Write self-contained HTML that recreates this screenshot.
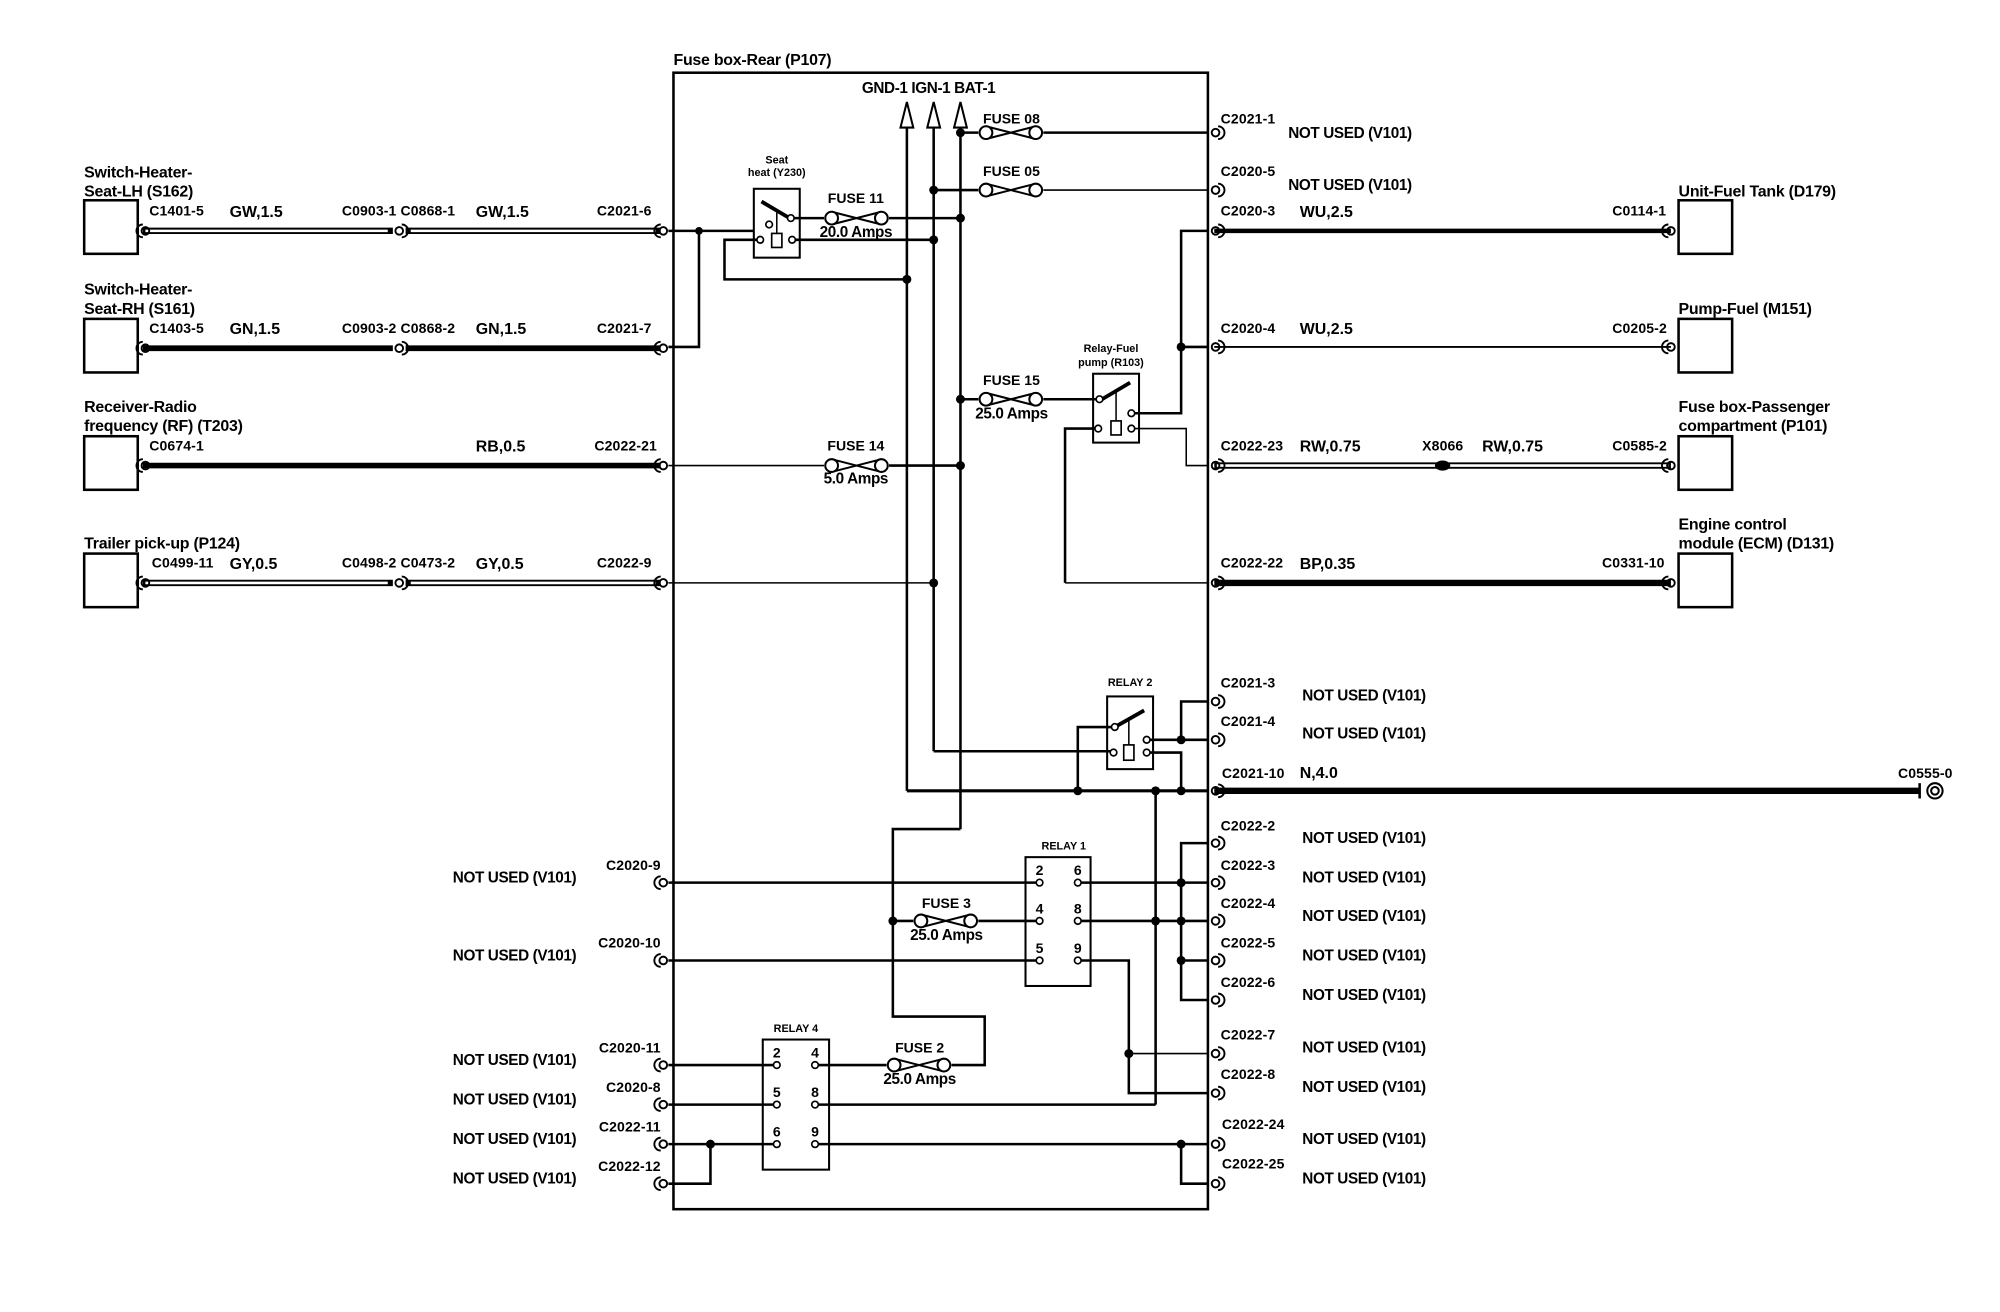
<!DOCTYPE html>
<html><head><meta charset="utf-8"><style>
html,body{margin:0;padding:0;background:#fff;}
svg{display:block;}
text{font-family:"Liberation Sans",Arial,sans-serif;fill:#000;}
.t{font-size:12.5px;font-weight:bold;letter-spacing:-0.2px;}
.w{font-size:12.5px;font-weight:bold;}
.c{font-size:11px;font-weight:bold;letter-spacing:0.1px;}
.n{font-size:12px;font-weight:bold;letter-spacing:-0.3px;}
.f{font-size:11px;font-weight:bold;}
.s{font-size:8.5px;font-weight:bold;}
</style></head><body>
<svg width="2000" height="1312" viewBox="0 0 1568 1028.6" xmlns="http://www.w3.org/2000/svg">
<defs>
<g id="fz" fill="#fff" stroke="#000" stroke-width="1.6">
<line x1="6" y1="-5" x2="25.5" y2="0"/><line x1="6" y1="5" x2="25.5" y2="0"/>
<line x1="45" y1="-5" x2="25.5" y2="0"/><line x1="45" y1="5" x2="25.5" y2="0"/>
<circle cx="6" cy="0" r="5"/><circle cx="45" cy="0" r="5"/>
</g>
<g id="pL" fill="none" stroke="#000" stroke-width="1.5"><circle cx="0" cy="0" r="3"/><path d="M-2,-5 A5,5 0 0 0 -2,5"/></g>
<g id="pR" fill="none" stroke="#000" stroke-width="1.5"><circle cx="0" cy="0" r="3"/><path d="M2,-5 A5,5 0 0 1 2,5"/></g>
<g id="pin" fill="#fff" stroke="#000" stroke-width="1.3"><circle cx="0" cy="0" r="2.6"/></g>
</defs>
<g stroke="#000" fill="none">
<rect x="528" y="57" width="419" height="891" stroke-width="2"/>
<g stroke-width="2">
<rect x="66" y="157" width="42" height="42"/>
<rect x="66" y="250" width="42" height="42"/>
<rect x="66" y="342" width="42" height="42"/>
<rect x="66" y="434" width="42" height="42"/>
<rect x="1316" y="157" width="42" height="42"/>
<rect x="1316" y="250" width="42" height="42"/>
<rect x="1316" y="342" width="42" height="42"/>
<rect x="1316" y="434" width="42" height="42"/>
</g>
<g stroke-width="5"><line x1="112" y1="181" x2="308" y2="181"/><line x1="318" y1="181" x2="518" y2="181"/>
<line x1="112" y1="457" x2="308" y2="457"/><line x1="318" y1="457" x2="518" y2="457"/></g>
<g stroke-width="2" stroke="#fff"><line x1="114" y1="181" x2="304" y2="181"/><line x1="322" y1="181" x2="514" y2="181"/>
<line x1="114" y1="457" x2="304" y2="457"/><line x1="322" y1="457" x2="514" y2="457"/></g>
<g stroke-width="4.5"><line x1="112" y1="273" x2="308" y2="273"/><line x1="318" y1="273" x2="518" y2="273"/>
<line x1="112" y1="365" x2="518" y2="365"/></g>
<line x1="952" y1="181" x2="1310" y2="181" stroke-width="3.5"/>
<line x1="952" y1="272" x2="1310" y2="272" stroke-width="1.5"/>
<line x1="952" y1="365" x2="1310" y2="365" stroke-width="5"/>
<line x1="954" y1="365" x2="1308" y2="365" stroke-width="2" stroke="#fff"/>
<line x1="952" y1="457" x2="1310" y2="457" stroke-width="5"/>
<line x1="952" y1="620" x2="1505" y2="620" stroke-width="5"/>
<g stroke-width="1.2">
<line x1="524" y1="365" x2="646" y2="365"/>
<line x1="524" y1="457" x2="732" y2="457"/>
<line x1="818" y1="149" x2="947" y2="149"/>
<line x1="835" y1="457" x2="947" y2="457"/>
<polyline points="887,336 930,336 930,365 947,365"/>
<line x1="885" y1="826" x2="947" y2="826"/>
</g>
<g stroke-width="2">
<line x1="711" y1="100" x2="711" y2="620"/>
<line x1="732" y1="100" x2="732" y2="589"/>
<line x1="753" y1="100" x2="753" y2="650"/>
<line x1="524" y1="181" x2="591" y2="181"/>
<polyline points="548,181 548,272 524,272"/>
<line x1="620" y1="171" x2="646" y2="171"/><line x1="697" y1="171" x2="753" y2="171"/>
<line x1="621" y1="188" x2="732" y2="188"/>
<polyline points="596,188 568,188 568,219 711,219"/>
<line x1="753" y1="104" x2="767" y2="104"/><line x1="818" y1="104" x2="947" y2="104"/>
<line x1="732" y1="149" x2="767" y2="149"/>
<line x1="697" y1="365" x2="753" y2="365"/>
<line x1="753" y1="313" x2="767" y2="313"/><line x1="818" y1="313" x2="862" y2="313"/>
<polyline points="887,324 926,324 926,181 947,181"/>
<line x1="926" y1="272" x2="947" y2="272"/>
<polyline points="861,336 835,336 835,457"/>
<line x1="732" y1="589" x2="873" y2="589"/>
<line x1="711" y1="620" x2="947" y2="620" stroke-width="2.5"/>
<polyline points="874,570 845,570 845,620"/>
<line x1="899" y1="580" x2="947" y2="580"/>
<polyline points="926,580 926,550 947,550"/>
<polyline points="899,590 926,590 926,620"/>
<line x1="906" y1="620" x2="906" y2="866"/>
<polyline points="753,650 700,650 700,797 772,797 772,835 746,835"/>
<line x1="524" y1="692" x2="815" y2="692"/>
<line x1="524" y1="753" x2="815" y2="753"/>
<line x1="700" y1="722" x2="716" y2="722"/><line x1="767" y1="722" x2="815" y2="722"/>
<line x1="845" y1="692" x2="947" y2="692"/>
<line x1="845" y1="722" x2="947" y2="722"/>
<polyline points="845,753 885,753 885,857 947,857"/>
<polyline points="947,661 926,661 926,784 947,784"/>
<line x1="926" y1="753" x2="947" y2="753"/>
<line x1="524" y1="835" x2="609" y2="835"/>
<line x1="639" y1="835" x2="695" y2="835"/>
<line x1="524" y1="866" x2="609" y2="866"/>
<line x1="639" y1="866" x2="906" y2="866"/>
<line x1="524" y1="897" x2="609" y2="897"/>
<polyline points="557,897 557,928 524,928"/>
<line x1="639" y1="897" x2="947" y2="897"/>
<polyline points="926,897 926,928 947,928"/>
</g>
<g stroke-width="1.6" fill="#fff">
<polygon points="711,80 706,100 716,100"/>
<polygon points="732,80 727,100 737,100"/>
<polygon points="753,80 748,100 758,100"/>
</g>
<rect x="591" y="148" width="36" height="54" stroke-width="1.6"/>
<line x1="597" y1="158" x2="619" y2="171" stroke-width="3"/>
<line x1="609" y1="165" x2="609" y2="183" stroke-width="1.2"/>
<rect x="605" y="183" width="8" height="11" stroke-width="1.3" fill="#fff"/>
<rect x="857" y="293" width="36" height="54" stroke-width="1.6"/>
<line x1="864" y1="313" x2="886" y2="300" stroke-width="3"/>
<line x1="875" y1="307" x2="875" y2="330" stroke-width="1.2"/>
<rect x="871" y="330" width="8" height="11" stroke-width="1.3" fill="#fff"/>
<rect x="868" y="546" width="36" height="57" stroke-width="1.6"/>
<line x1="874" y1="570" x2="897" y2="557" stroke-width="3"/>
<line x1="885" y1="564" x2="885" y2="584" stroke-width="1.2"/>
<rect x="881" y="584" width="8" height="12" stroke-width="1.3" fill="#fff"/>
<rect x="804" y="672" width="51" height="101" stroke-width="1.6"/>
<rect x="598" y="815" width="52" height="102" stroke-width="1.6"/>
</g>
<use href="#pin" x="603" y="176"/><use href="#pin" x="596" y="188"/><use href="#pin" x="621" y="188"/><use href="#pin" x="620" y="171"/>
<use href="#pin" x="862" y="313"/><use href="#pin" x="887" y="324"/><use href="#pin" x="861" y="336"/><use href="#pin" x="887" y="336"/>
<use href="#pin" x="874" y="570"/><use href="#pin" x="899" y="580"/><use href="#pin" x="873" y="590"/><use href="#pin" x="899" y="590"/>
<use href="#pin" x="815" y="692"/><use href="#pin" x="845" y="692"/><use href="#pin" x="815" y="722"/><use href="#pin" x="845" y="722"/><use href="#pin" x="815" y="753"/><use href="#pin" x="845" y="753"/>
<use href="#pin" x="609" y="835"/><use href="#pin" x="639" y="835"/><use href="#pin" x="609" y="866"/><use href="#pin" x="639" y="866"/><use href="#pin" x="609" y="897"/><use href="#pin" x="639" y="897"/>
<use href="#fz" x="767" y="104"/><use href="#fz" x="767" y="149"/><use href="#fz" x="646" y="171"/>
<use href="#fz" x="767" y="313"/><use href="#fz" x="646" y="365"/><use href="#fz" x="716" y="722"/><use href="#fz" x="695" y="835"/>
<use href="#pL" x="114" y="181"/><use href="#pL" x="114" y="273"/><use href="#pL" x="114" y="365"/><use href="#pL" x="114" y="457"/>
<use href="#pR" x="313" y="181"/><use href="#pR" x="313" y="273"/><use href="#pR" x="313" y="457"/>
<g><use href="#pL" x="520" y="181"/><use href="#pL" x="520" y="273"/><use href="#pL" x="520" y="365"/><use href="#pL" x="520" y="457"/>
<use href="#pL" x="520" y="692"/><use href="#pL" x="520" y="753"/><use href="#pL" x="520" y="835"/><use href="#pL" x="520" y="866"/><use href="#pL" x="520" y="897"/><use href="#pL" x="520" y="928"/></g>
<g><use href="#pR" x="953" y="104"/><use href="#pR" x="953" y="149"/><use href="#pR" x="953" y="181"/><use href="#pR" x="953" y="272"/><use href="#pR" x="953" y="365"/><use href="#pR" x="953" y="457"/>
<use href="#pR" x="953" y="550"/><use href="#pR" x="953" y="580"/><use href="#pR" x="953" y="620"/>
<use href="#pR" x="953" y="661"/><use href="#pR" x="953" y="692"/><use href="#pR" x="953" y="722"/><use href="#pR" x="953" y="753"/><use href="#pR" x="953" y="784"/>
<use href="#pR" x="953" y="826"/><use href="#pR" x="953" y="857"/><use href="#pR" x="953" y="897"/><use href="#pR" x="953" y="928"/></g>
<use href="#pL" x="1310" y="181"/><use href="#pL" x="1310" y="272"/><use href="#pL" x="1310" y="365"/><use href="#pL" x="1310" y="457"/>
<g fill="#fff" stroke="#000" stroke-width="1.6"><circle cx="1517" cy="620" r="6"/><circle cx="1517" cy="620" r="3"/></g>
<line x1="1505" y1="614" x2="1505" y2="626" stroke="#000" stroke-width="2"/>
<g fill="#000">
<circle cx="548" cy="181" r="3"/><circle cx="753" cy="104" r="3.5"/><circle cx="732" cy="149" r="3.5"/>
<circle cx="753" cy="171" r="3.5"/><circle cx="732" cy="188" r="3.5"/><circle cx="711" cy="219" r="3.5"/>
<circle cx="753" cy="313" r="3.5"/><circle cx="753" cy="365" r="3.5"/><circle cx="732" cy="457" r="3.5"/>
<circle cx="926" cy="272" r="3.5"/><circle cx="926" cy="580" r="3.5"/><circle cx="845" cy="620" r="3.5"/>
<circle cx="906" cy="620" r="3.5"/><circle cx="926" cy="620" r="3.5"/>
<circle cx="926" cy="692" r="3.5"/><circle cx="926" cy="722" r="3.5"/><circle cx="926" cy="753" r="3.5"/>
<circle cx="906" cy="722" r="3.5"/><circle cx="700" cy="722" r="3.5"/><circle cx="885" cy="826" r="3.5"/>
<circle cx="557" cy="897" r="3.5"/><circle cx="926" cy="897" r="3.5"/>
<ellipse cx="1131" cy="365" rx="6" ry="4"/>
</g>
<text class="t" x="528" y="51">Fuse box-Rear (P107)</text>
<text class="n" x="728" y="73" text-anchor="middle">GND-1 IGN-1 BAT-1</text>
<text class="t" x="66" y="139">Switch-Heater-</text><text class="t" x="66" y="154">Seat-LH (S162)</text>
<text class="t" x="66" y="231">Switch-Heater-</text><text class="t" x="66" y="246">Seat-RH (S161)</text>
<text class="t" x="66" y="323">Receiver-Radio</text><text class="t" x="66" y="338">frequency (RF) (T203)</text>
<text class="t" x="66" y="430">Trailer pick-up (P124)</text>
<text class="c" x="117" y="169">C1401-5</text><text class="w" x="180" y="170">GW,1.5</text><text class="c" x="268" y="169">C0903-1 C0868-1</text><text class="w" x="373" y="170">GW,1.5</text><text class="c" x="468" y="169">C2021-6</text>
<text class="c" x="117" y="261">C1403-5</text><text class="w" x="180" y="262">GN,1.5</text><text class="c" x="268" y="261">C0903-2 C0868-2</text><text class="w" x="373" y="262">GN,1.5</text><text class="c" x="468" y="261">C2021-7</text>
<text class="c" x="117" y="353">C0674-1</text><text class="w" x="373" y="354">RB,0.5</text><text class="c" x="466" y="353">C2022-21</text>
<text class="c" x="119" y="445">C0499-11</text><text class="w" x="180" y="446">GY,0.5</text><text class="c" x="268" y="445">C0498-2 C0473-2</text><text class="w" x="373" y="446">GY,0.5</text><text class="c" x="468" y="445">C2022-9</text>
<text class="s" x="609" y="128" text-anchor="middle">Seat</text><text class="s" x="609" y="138" text-anchor="middle">heat (Y230)</text>
<text class="f" x="671" y="159" text-anchor="middle">FUSE 11</text><text class="n" x="671" y="186" text-anchor="middle">20.0 Amps</text>
<text class="f" x="793" y="97" text-anchor="middle">FUSE 08</text><text class="f" x="793" y="138" text-anchor="middle">FUSE 05</text>
<text class="f" x="793" y="302" text-anchor="middle">FUSE 15</text><text class="n" x="793" y="328" text-anchor="middle">25.0 Amps</text>
<text class="f" x="671" y="353" text-anchor="middle">FUSE 14</text><text class="n" x="671" y="379" text-anchor="middle">5.0 Amps</text>
<text class="s" x="871" y="276" text-anchor="middle">Relay-Fuel</text><text class="s" x="871" y="287" text-anchor="middle">pump (R103)</text>
<text class="s" x="886" y="538" text-anchor="middle">RELAY 2</text>
<text class="s" x="834" y="666" text-anchor="middle">RELAY 1</text>
<text class="s" x="624" y="809" text-anchor="middle">RELAY 4</text>
<text class="f" x="742" y="712" text-anchor="middle">FUSE 3</text><text class="n" x="742" y="737" text-anchor="middle">25.0 Amps</text>
<text class="f" x="721" y="825" text-anchor="middle">FUSE 2</text><text class="n" x="721" y="850" text-anchor="middle">25.0 Amps</text>
<text class="f" x="815" y="686" text-anchor="middle">2</text><text class="f" x="845" y="686" text-anchor="middle">6</text>
<text class="f" x="815" y="716" text-anchor="middle">4</text><text class="f" x="845" y="716" text-anchor="middle">8</text>
<text class="f" x="815" y="747" text-anchor="middle">5</text><text class="f" x="845" y="747" text-anchor="middle">9</text>
<text class="f" x="609" y="829" text-anchor="middle">2</text><text class="f" x="639" y="829" text-anchor="middle">4</text>
<text class="f" x="609" y="860" text-anchor="middle">5</text><text class="f" x="639" y="860" text-anchor="middle">8</text>
<text class="f" x="609" y="891" text-anchor="middle">6</text><text class="f" x="639" y="891" text-anchor="middle">9</text>
<text class="c" x="957" y="97">C2021-1</text><text class="n" x="1010" y="108">NOT USED (V101)</text>
<text class="c" x="957" y="138">C2020-5</text><text class="n" x="1010" y="149">NOT USED (V101)</text>
<text class="c" x="957" y="169">C2020-3</text><text class="w" x="1019" y="170">WU,2.5</text><text class="c" x="1264" y="169">C0114-1</text><text class="t" x="1316" y="154">Unit-Fuel Tank (D179)</text>
<text class="c" x="957" y="261">C2020-4</text><text class="w" x="1019" y="262">WU,2.5</text><text class="c" x="1264" y="261">C0205-2</text><text class="t" x="1316" y="246">Pump-Fuel (M151)</text>
<text class="c" x="957" y="353">C2022-23</text><text class="w" x="1019" y="354">RW,0.75</text><text class="c" x="1115" y="353">X8066</text><text class="w" x="1162" y="354">RW,0.75</text><text class="c" x="1264" y="353">C0585-2</text>
<text class="t" x="1316" y="323">Fuse box-Passenger</text><text class="t" x="1316" y="338">compartment (P101)</text>
<text class="c" x="957" y="445">C2022-22</text><text class="w" x="1019" y="446">BP,0.35</text><text class="c" x="1256" y="445">C0331-10</text>
<text class="t" x="1316" y="415">Engine control</text><text class="t" x="1316" y="430">module (ECM) (D131)</text>
<text class="c" x="957" y="539">C2021-3</text><text class="n" x="1021" y="549">NOT USED (V101)</text>
<text class="c" x="957" y="569">C2021-4</text><text class="n" x="1021" y="579">NOT USED (V101)</text>
<text class="c" x="958" y="610">C2021-10</text><text class="w" x="1019" y="610">N,4.0</text><text class="c" x="1488" y="610">C0555-0</text>
<text class="c" x="957" y="651">C2022-2</text><text class="n" x="1021" y="661">NOT USED (V101)</text>
<text class="c" x="957" y="682">C2022-3</text><text class="n" x="1021" y="692">NOT USED (V101)</text>
<text class="c" x="957" y="712">C2022-4</text><text class="n" x="1021" y="722">NOT USED (V101)</text>
<text class="c" x="957" y="743">C2022-5</text><text class="n" x="1021" y="753">NOT USED (V101)</text>
<text class="c" x="957" y="774">C2022-6</text><text class="n" x="1021" y="784">NOT USED (V101)</text>
<text class="c" x="957" y="815">C2022-7</text><text class="n" x="1021" y="825">NOT USED (V101)</text>
<text class="c" x="957" y="846">C2022-8</text><text class="n" x="1021" y="856">NOT USED (V101)</text>
<text class="c" x="958" y="885">C2022-24</text><text class="n" x="1021" y="897">NOT USED (V101)</text>
<text class="c" x="958" y="916">C2022-25</text><text class="n" x="1021" y="928">NOT USED (V101)</text>
<text class="c" x="518" y="682" text-anchor="end">C2020-9</text><text class="n" x="355" y="692">NOT USED (V101)</text>
<text class="c" x="518" y="743" text-anchor="end">C2020-10</text><text class="n" x="355" y="753">NOT USED (V101)</text>
<text class="c" x="518" y="825" text-anchor="end">C2020-11</text><text class="n" x="355" y="835">NOT USED (V101)</text>
<text class="c" x="518" y="856" text-anchor="end">C2020-8</text><text class="n" x="355" y="866">NOT USED (V101)</text>
<text class="c" x="518" y="887" text-anchor="end">C2022-11</text><text class="n" x="355" y="897">NOT USED (V101)</text>
<text class="c" x="518" y="918" text-anchor="end">C2022-12</text><text class="n" x="355" y="928">NOT USED (V101)</text>
</svg>
</body></html>
